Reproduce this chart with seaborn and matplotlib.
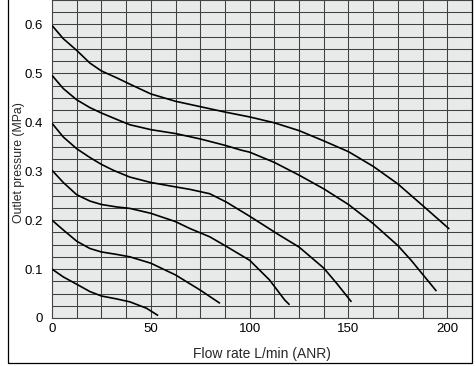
import pandas as pd
import matplotlib.pyplot as plt
import seaborn as sns
from matplotlib.patches import Rectangle

sns.set_style("white")
plt.rcParams['font.family'] = ['Liberation Sans', 'DejaVu Sans']

# Flow rate (L/min ANR) vs outlet pressure (MPa), one curve per set pressure
flow_06 = [0, 5.7, 12.5, 19.2, 25, 32.7, 39.4, 50, 62.5, 75, 87.5, 100, 112.5, 125, 137.5, 150, 162.5, 175, 187.5, 201]
pres_06 = [0.598, 0.571, 0.547, 0.521, 0.505, 0.491, 0.478, 0.458, 0.443, 0.432, 0.421, 0.411, 0.399, 0.383, 0.362, 0.340, 0.310, 0.274, 0.230, 0.182]

flow_05 = [0, 5.7, 12.5, 19.2, 25, 32.7, 39.4, 50, 62.5, 75, 87.5, 95.8, 100, 112.5, 125, 137.5, 150, 162.5, 175, 181.7, 194.5]
pres_05 = [0.496, 0.469, 0.446, 0.430, 0.419, 0.406, 0.395, 0.385, 0.377, 0.366, 0.353, 0.343, 0.339, 0.318, 0.292, 0.264, 0.232, 0.193, 0.148, 0.118, 0.055]

flow_04 = [0, 5.7, 12.5, 19.2, 25, 31, 39.4, 50, 62.5, 69.7, 79.8, 88.2, 100, 115.2, 125, 137.5, 144, 151.5]
pres_04 = [0.398, 0.370, 0.346, 0.328, 0.314, 0.302, 0.288, 0.277, 0.268, 0.263, 0.254, 0.237, 0.208, 0.169, 0.145, 0.102, 0.071, 0.033]

flow_03 = [0, 5.7, 12.5, 19.2, 25, 32.7, 39.4, 50, 62.5, 69.7, 79.8, 87.5, 100, 110, 117.7, 120.2]
pres_03 = [0.302, 0.277, 0.252, 0.239, 0.232, 0.227, 0.224, 0.214, 0.197, 0.183, 0.166, 0.148, 0.118, 0.078, 0.037, 0.027]

flow_02 = [0, 5.7, 12.5, 19.2, 25, 32.7, 39.4, 50, 62.5, 75, 85]
pres_02 = [0.200, 0.180, 0.157, 0.142, 0.135, 0.130, 0.125, 0.112, 0.088, 0.057, 0.030]

flow_01 = [0, 5.7, 12.5, 19.2, 25, 32.7, 39.4, 47.8, 53.7]
pres_01 = [0.100, 0.084, 0.069, 0.054, 0.045, 0.039, 0.033, 0.020, 0.005]

curves = {
    '0.6': (flow_06, pres_06),
    '0.5': (flow_05, pres_05),
    '0.4': (flow_04, pres_04),
    '0.3': (flow_03, pres_03),
    '0.2': (flow_02, pres_02),
    '0.1': (flow_01, pres_01),
}
frames = [pd.DataFrame({'flow': f, 'pressure': p, 'curve': k}) for k, (f, p) in curves.items()]
data = pd.concat(frames, ignore_index=True)

x_ticks = [0, 50, 100, 150, 200]
y_ticks = [0, 0.1, 0.2, 0.3, 0.4, 0.5, 0.6]
y_tick_labels = ['0', '0.1', '0.2', '0.3', '0.4', '0.5', '0.6']

fig = plt.figure(figsize=(4.77, 3.66), dpi=100)
ax = fig.add_axes([52 / 477, 48 / 366, 420 / 477, 318 / 366])
ax.set_facecolor('#e8e9e9')

# dense grid
for gx in [i * 12.5 for i in range(1, 17)]:
    ax.axvline(gx, color='#404040', lw=0.75, zorder=1)
for gy in [i * 0.025 for i in range(1, 26)]:
    ax.axhline(gy, color='#404040', lw=0.75, zorder=1)

sns.lineplot(data=data, x='flow', y='pressure', units='curve', estimator=None,
             sort=False, color='black', lw=1.2, ax=ax, zorder=3,
             solid_joinstyle='round', solid_capstyle='butt')

ax.set_xlim(0, 212.5)
ax.set_ylim(0, 0.65)
ax.set_xticks(x_ticks)
ax.set_xticklabels([str(t) for t in x_ticks])
ax.set_yticks(y_ticks)
ax.set_yticklabels(y_tick_labels)
ax.tick_params(axis='both', length=0, labelsize=9.5, colors='black')
ax.tick_params(axis='y', pad=6.5)
ax.tick_params(axis='x', pad=3.5)

ax.set_xlabel('Flow rate L/min (ANR)', fontsize=10, labelpad=9)
ax.set_ylabel('Outlet pressure (MPa)', fontsize=8.8)
ax.yaxis.set_label_coords(-0.065, 0.49)

for side in ['left', 'bottom', 'top', 'right']:
    ax.spines[side].set_color('#444444')
    ax.spines[side].set_linewidth(0.8)

# outer frame
fig.patches.append(Rectangle((8 / 477, 3 / 366), 464 / 477, 1.0, transform=fig.transFigure,
                             fill=False, edgecolor='black', lw=0.9, zorder=0))

fig.savefig('out.png', dpi=100)
